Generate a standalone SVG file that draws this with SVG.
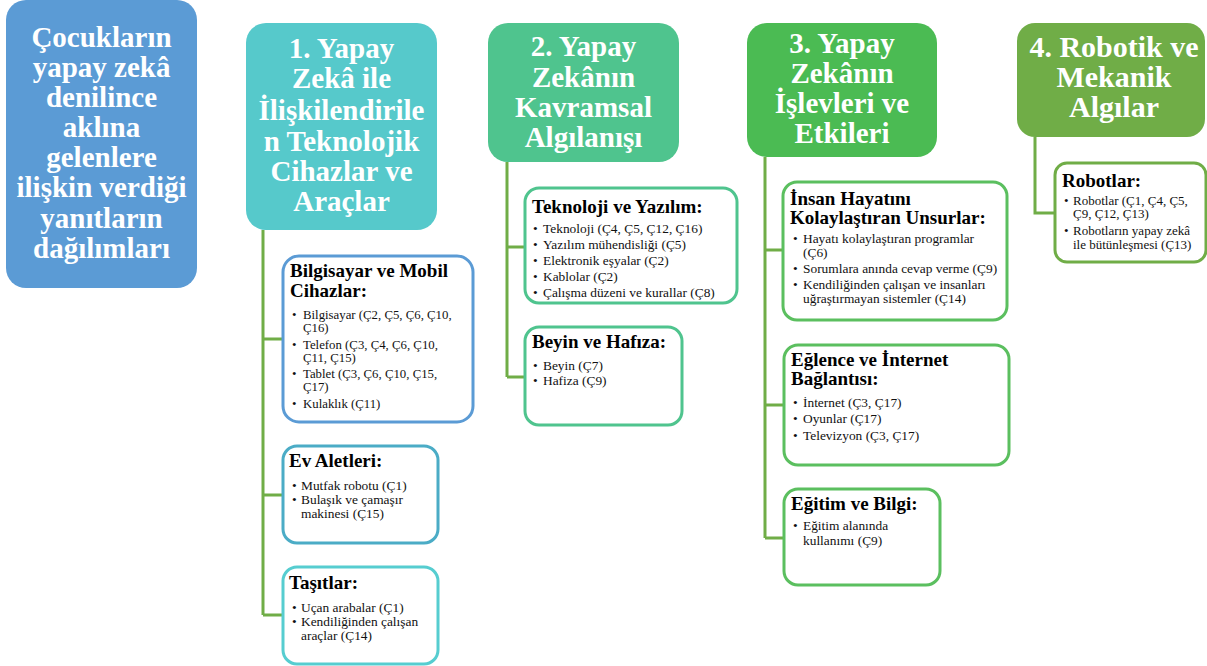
<svg xmlns="http://www.w3.org/2000/svg" width="1207" height="666" viewBox="0 0 1207 666">
<style>
.hd{font-family:"Liberation Serif","Times New Roman",serif;font-weight:bold;font-size:29px;fill:#fff;text-anchor:middle}
.tt{font-family:"Liberation Serif","Times New Roman",serif;font-weight:bold;font-size:19px;fill:#000}
.bl{font-family:"Liberation Serif","Times New Roman",serif;font-size:13.4px;fill:#111}
.box{fill:#fff;stroke-width:3}
.con{fill:none;stroke:#70AD47;stroke-width:3}
</style>
<rect width="1207" height="666" fill="#fff"/>
<g id="connectors">
<path class="con" d="M263,230 V615 M263,339 H283 M263,495 H283 M263,615 H283"/>
<path class="con" d="M507,162 V377 M507,247 H525 M507,377 H525"/>
<path class="con" d="M765,157 V538 M765,250 H783 M765,405 H784 M765,538 H784"/>
<path class="con" d="M1035,137 V213 H1055"/>
</g>
<g id="root">
<rect x="6" y="0" width="191" height="288" rx="20" fill="#5B9BD5"/>
<text class="hd"><tspan x="101.5" y="47">Çocukların</tspan><tspan x="101.5" y="77">yapay zekâ</tspan><tspan x="101.5" y="107">denilince</tspan><tspan x="101.5" y="137">aklına</tspan><tspan x="101.5" y="167">gelenlere</tspan><tspan x="101.5" y="197">ilişkin verdiği</tspan><tspan x="101.5" y="228">yanıtların</tspan><tspan x="101.5" y="258">dağılımları</tspan></text>
</g>
<g id="h1">
<rect x="246" y="23" width="191" height="207" rx="20" fill="#56C9CB"/>
<text class="hd"><tspan x="341.5" y="58">1. Yapay</tspan><tspan x="341.5" y="88">Zekâ ile</tspan><tspan x="341.5" y="120">İlişkilendirile</tspan><tspan x="341.5" y="151">n Teknolojik</tspan><tspan x="341.5" y="181">Cihazlar ve</tspan><tspan x="341.5" y="211">Araçlar</tspan></text>
</g>
<g id="h2">
<rect x="488" y="23" width="191" height="139" rx="20" fill="#4FC48E"/>
<text class="hd"><tspan x="583.5" y="56">2. Yapay</tspan><tspan x="583.5" y="87">Zekânın</tspan><tspan x="583.5" y="117">Kavramsal</tspan><tspan x="583.5" y="147">Algılanışı</tspan></text>
</g>
<g id="h3">
<rect x="747" y="23" width="190" height="134" rx="20" fill="#4BBB53"/>
<text class="hd"><tspan x="842" y="53">3. Yapay</tspan><tspan x="842" y="83">Zekânın</tspan><tspan x="842" y="113">İşlevleri ve</tspan><tspan x="842" y="143">Etkileri</tspan></text>
</g>
<g id="h4">
<rect x="1017" y="23" width="188" height="114" rx="18" fill="#70AD47"/>
<text class="hd" style="font-size:30px"><tspan x="1114" y="57">4. Robotik ve</tspan><tspan x="1114" y="87">Mekanik</tspan><tspan x="1114" y="117">Algılar</tspan></text>
</g>
<g id="c1a">
<rect class="box" x="283" y="256" width="190" height="166" rx="16" stroke="#5B9BD5"/>
<text class="tt"><tspan x="290" y="277">Bilgisayar ve Mobil</tspan><tspan x="290" y="297">Cihazlar:</tspan></text>
<text class="bl" style="font-size:12.8px"><tspan x="292" y="319">•</tspan><tspan x="303" y="319">Bilgisayar (Ç2, Ç5, Ç6, Ç10,</tspan><tspan x="303" y="332">Ç16)</tspan><tspan x="292" y="349">•</tspan><tspan x="303" y="349">Telefon (Ç3, Ç4, Ç6, Ç10,</tspan><tspan x="303" y="362">Ç11, Ç15)</tspan><tspan x="292" y="378">•</tspan><tspan x="303" y="378">Tablet (Ç3, Ç6, Ç10, Ç15,</tspan><tspan x="303" y="391">Ç17)</tspan><tspan x="292" y="408">•</tspan><tspan x="303" y="408">Kulaklık (Ç11)</tspan></text>
</g>
<g id="c1b">
<rect class="box" x="283" y="446" width="155" height="97" rx="14" stroke="#4BACC6"/>
<text class="tt"><tspan x="289" y="467">Ev Aletleri:</tspan></text>
<text class="bl"><tspan x="292" y="490">•</tspan><tspan x="301" y="490">Mutfak robotu (Ç1)</tspan><tspan x="292" y="504">•</tspan><tspan x="301" y="504">Bulaşık ve çamaşır</tspan><tspan x="301" y="518">makinesi (Ç15)</tspan></text>
</g>
<g id="c1c">
<rect class="box" x="283" y="567" width="155" height="97" rx="14" stroke="#56CDD0"/>
<text class="tt"><tspan x="289" y="589">Taşıtlar:</tspan></text>
<text class="bl"><tspan x="292" y="612">•</tspan><tspan x="301" y="612">Uçan arabalar (Ç1)</tspan><tspan x="292" y="626">•</tspan><tspan x="301" y="626">Kendiliğinden çalışan</tspan><tspan x="301" y="640">araçlar (Ç14)</tspan></text>
</g>
<g id="c2a">
<rect class="box" x="525" y="188" width="212" height="115" rx="14" stroke="#4FC48E"/>
<text class="tt"><tspan x="532" y="213">Teknoloji ve Yazılım:</tspan></text>
<text class="bl"><tspan x="533" y="233">•</tspan><tspan x="543" y="233">Teknoloji (Ç4, Ç5, Ç12, Ç16)</tspan><tspan x="533" y="249">•</tspan><tspan x="543" y="249">Yazılım mühendisliği (Ç5)</tspan><tspan x="533" y="265">•</tspan><tspan x="543" y="265">Elektronik eşyalar (Ç2)</tspan><tspan x="533" y="281">•</tspan><tspan x="543" y="281">Kablolar (Ç2)</tspan><tspan x="533" y="297">•</tspan><tspan x="543" y="297">Çalışma düzeni ve kurallar (Ç8)</tspan></text>
</g>
<g id="c2b">
<rect class="box" x="525" y="327" width="157" height="98" rx="14" stroke="#4FC48E"/>
<text class="tt"><tspan x="532" y="348">Beyin ve Hafıza:</tspan></text>
<text class="bl"><tspan x="533" y="370">•</tspan><tspan x="543" y="370">Beyin (Ç7)</tspan><tspan x="533" y="385">•</tspan><tspan x="543" y="385">Hafiza (Ç9)</tspan></text>
</g>
<g id="c3a">
<rect class="box" x="783" y="182" width="224" height="138" rx="14" stroke="#5BBF5F"/>
<text class="tt"><tspan x="790" y="205">İnsan Hayatını</tspan><tspan x="790" y="224">Kolaylaştıran Unsurlar:</tspan></text>
<text class="bl"><tspan x="793" y="243">•</tspan><tspan x="803" y="243">Hayatı kolaylaştıran programlar</tspan><tspan x="803" y="257">(Ç6)</tspan><tspan x="793" y="273">•</tspan><tspan x="803" y="273">Sorumlara anında cevap  verme (Ç9)</tspan><tspan x="793" y="289">•</tspan><tspan x="803" y="289">Kendiliğinden çalışan ve insanları</tspan><tspan x="803" y="303">uğraştırmayan sistemler (Ç14)</tspan></text>
</g>
<g id="c3b">
<rect class="box" x="784" y="345" width="225" height="120" rx="14" stroke="#5BBF5F"/>
<text class="tt"><tspan x="791" y="366">Eğlence ve İnternet</tspan><tspan x="791" y="385">Bağlantısı:</tspan></text>
<text class="bl"><tspan x="793" y="407">•</tspan><tspan x="803" y="407">İnternet (Ç3, Ç17)</tspan><tspan x="793" y="423">•</tspan><tspan x="803" y="423">Oyunlar (Ç17)</tspan><tspan x="793" y="440">•</tspan><tspan x="803" y="440">Televizyon  (Ç3, Ç17)</tspan></text>
</g>
<g id="c3c">
<rect class="box" x="784" y="489" width="156" height="96" rx="14" stroke="#5BBF5F"/>
<text class="tt"><tspan x="791" y="510">Eğitim ve Bilgi:</tspan></text>
<text class="bl"><tspan x="793" y="530">•</tspan><tspan x="803" y="530">Eğitim alanında</tspan><tspan x="803" y="545">kullanımı (Ç9)</tspan></text>
</g>
<g id="c4a">
<rect class="box" x="1055" y="163" width="151" height="99" rx="12" stroke="#70AD47"/>
<text class="tt"><tspan x="1062" y="187">Robotlar:</tspan></text>
<text class="bl" style="font-size:13px"><tspan x="1064" y="205">•</tspan><tspan x="1073" y="205">Robotlar (Ç1, Ç4, Ç5,</tspan><tspan x="1073" y="218">Ç9, Ç12, Ç13)</tspan><tspan x="1064" y="235">•</tspan><tspan x="1073" y="235">Robotların yapay zekâ</tspan><tspan x="1073" y="249">ile bütünleşmesi (Ç13)</tspan></text>
</g>
</svg>
